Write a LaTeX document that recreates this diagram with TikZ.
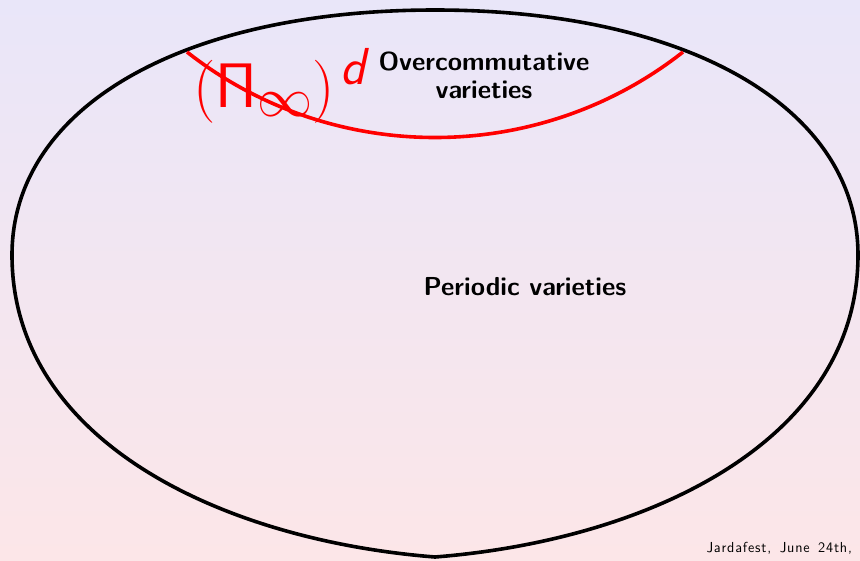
\RequirePackage{fix-cm}
\documentclass[tikz,border=0pt]{standalone}
\makeatletter
\def\lsp#1{\lsp@#1\@nil}
\def\lsp@#1{\ifx#1\@nil\else#1\kern0.8pt\expandafter\lsp@\fi}
\makeatother
\definecolor{bgtop}{RGB}{233,230,249}
\definecolor{bgbot}{RGB}{252,230,232}
\definecolor{arcred}{RGB}{255,0,0}
\tikzset{
  outline/.style={draw=black,line width=3.6pt,line join=miter},
  redarc/.style={draw=arcred,line width=3.6pt},
  lbl/.style={font=\fontsize{26}{28}\selectfont\sffamily\bfseries,inner sep=0pt,text=black},
  foot/.style={font=\fontsize{14.5}{16}\selectfont\sffamily,inner sep=0pt,text=black},
  mathlbl/.style={font=\fontsize{63}{70}\selectfont,inner sep=0pt,text=arcred}
}
\begin{document}
\begin{tikzpicture}[x=1pt,y=-1pt]
\useasboundingbox (0,0) rectangle (860,560);
\shade[top color=bgtop,bottom color=bgbot] (0,0) rectangle (860,560);
% outer shape
\coordinate (top) at (435,10);
\coordinate (right) at (858,255);
\coordinate (bottom) at (435,557);
\coordinate (left) at (12,255);
\draw[outline] (top) .. controls (689,10) and (858,108) .. (right)
  .. controls (858,440) and (650,540) .. (bottom)
  .. controls (220,540) and (12,440) .. (left)
  .. controls (12,108) and (181,10) .. (top) -- cycle;
% red arc
\coordinate (ra) at (187,52);
\coordinate (rb) at (683,52);
\draw[redarc] (ra) .. controls (332,166) and (538,166) .. (rb);
% labels
\node[mathlbl,anchor=base west] (pinf) at (193,107)
  {$(\mathsf{\Pi}_{\scalebox{1.25}{$\scriptstyle\infty$}})^{\kern5pt\mbox{\fontsize{52}{52}\selectfont\sffamily\slshape d}}$};
\node[lbl,anchor=base,align=center] (over) at (484,98) {Overcommutative\\varieties};
\node[lbl,anchor=base] (periodic) at (525,295) {Periodic varieties};
\node[foot,anchor=base east] (footer) at (853,552) {\lsp{Jardafest,}\hspace{3pt} \lsp{June}\hspace{3pt} \lsp{24th,}};
\end{tikzpicture}
\end{document}
